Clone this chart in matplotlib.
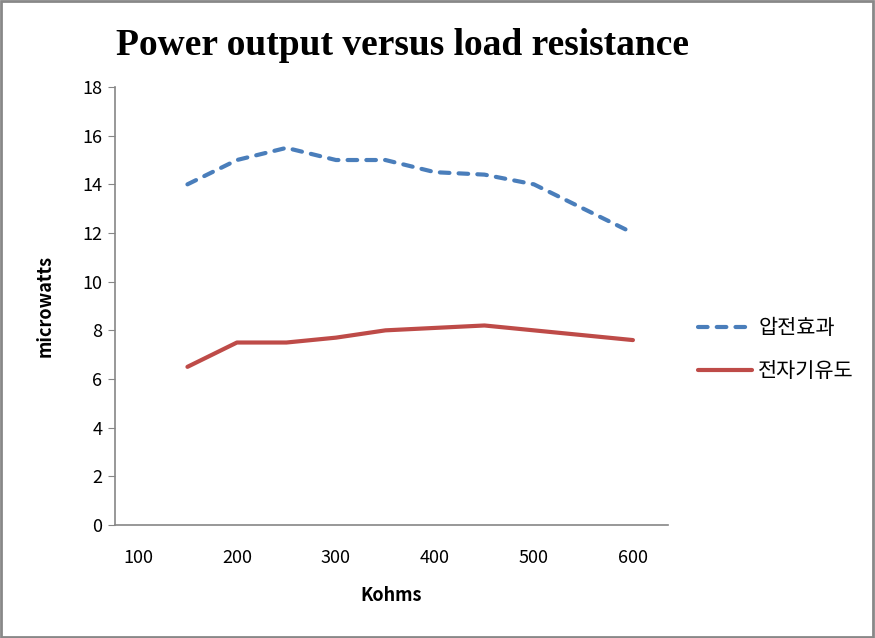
import matplotlib
matplotlib.use('Agg')
import matplotlib.pyplot as plt
from matplotlib.patches import Rectangle

# data
kohms = [150, 200, 250, 300, 350, 400, 450, 500, 600]
piezo = [14.0, 15.0, 15.5, 15.0, 15.0, 14.5, 14.4, 14.0, 12.0]
induct = [6.5, 7.5, 7.5, 7.7, 8.0, 8.1, 8.2, 8.0, 7.6]
series_names = ['압전효과', '전자기유도']
xticks = [100, 200, 300, 400, 500, 600]
yticks = [0, 2, 4, 6, 8, 10, 12, 14, 16, 18]

plt.rcParams['font.family'] = ['Noto Sans CJK KR', 'DejaVu Sans']

fig = plt.figure(figsize=(8.75, 6.38), dpi=100)
ax = fig.add_axes([0.1314, 0.1771, 0.632, 0.6865])

ax.plot(kohms, piezo, color='#4A7EBB', lw=3, ls=(0, (2.3, 2.2)),
        dash_capstyle='round', label=series_names[0])
ax.plot(kohms, induct, color='#BE4B48', lw=3, solid_capstyle='round',
        label=series_names[1])

ax.set_xlim(76.8, 635.4)
ax.set_ylim(0, 18)
ax.set_xticks(xticks)
ax.set_yticks(yticks)
ax.tick_params(axis='x', length=0, pad=17, labelsize=13)
ax.tick_params(axis='y', length=5, color='#868686', direction='out', pad=4,
               labelsize=13)
for s in ['top', 'right']:
    ax.spines[s].set_visible(False)
for s in ['left', 'bottom']:
    ax.spines[s].set_color('#868686')
    ax.spines[s].set_linewidth(1.2)

ax.set_xlabel('Kohms', fontsize=13, fontweight='bold', labelpad=14)
ax.set_ylabel('microwatts', fontsize=13, fontweight='bold', labelpad=20)

fig.text(0.46, 0.928, 'Power output versus load resistance',
         family='Liberation Serif', fontweight='bold', fontsize=27,
         ha='center', va='center')

ax.legend(loc='center left', bbox_to_anchor=(1.02, 0.40), frameon=False,
          fontsize=15, handlelength=2.6, handletextpad=0.3, labelspacing=1.0)

fig.patches.append(Rectangle((0.001, 0.001), 0.997, 0.997, transform=fig.transFigure,
                             fill=False, edgecolor='#888888', lw=2))

fig.savefig('out.png', dpi=100)
